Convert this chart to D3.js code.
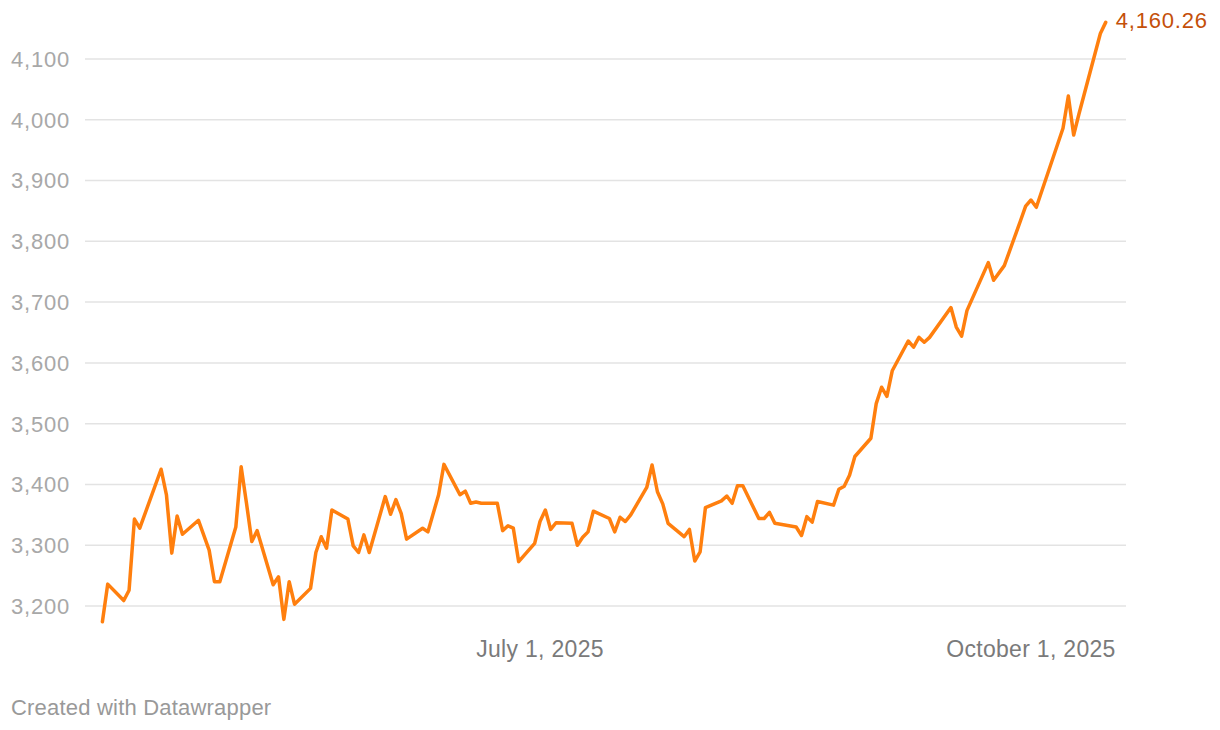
<!DOCTYPE html>
<html>
<head>
<meta charset="utf-8">
<script src="https://cdn.jsdelivr.net/npm/d3@7"></script>
<style>
  body { margin: 0; background: #fff; }
  text { font-family: "Liberation Sans", Arial, sans-serif; }
</style>
</head>
<body>
<div id="chart"></div>
<script>
// gold price, daily
const dates = [
  "2025-04-10","2025-04-11","2025-04-14","2025-04-15","2025-04-16","2025-04-17","2025-04-21","2025-04-22","2025-04-23","2025-04-24",
  "2025-04-25","2025-04-28","2025-04-30","2025-05-01","2025-05-02","2025-05-05","2025-05-06","2025-05-07","2025-05-08","2025-05-09",
  "2025-05-12","2025-05-13","2025-05-14","2025-05-15","2025-05-16","2025-05-19","2025-05-20","2025-05-21","2025-05-22","2025-05-23",
  "2025-05-26","2025-05-27","2025-05-28","2025-05-29","2025-05-30","2025-06-02","2025-06-03","2025-06-04","2025-06-05","2025-06-06",
  "2025-06-09","2025-06-10","2025-06-12","2025-06-13","2025-06-16","2025-06-17","2025-06-18","2025-06-19","2025-06-20","2025-06-23",
  "2025-06-24","2025-06-25","2025-06-26","2025-06-27","2025-06-30","2025-07-01","2025-07-02","2025-07-03","2025-07-04","2025-07-07",
  "2025-07-08","2025-07-09","2025-07-10","2025-07-11","2025-07-14","2025-07-15","2025-07-16","2025-07-17","2025-07-18","2025-07-21",
  "2025-07-22","2025-07-23","2025-07-24","2025-07-25","2025-07-28","2025-07-29","2025-07-30","2025-07-31","2025-08-01","2025-08-04",
  "2025-08-05","2025-08-06","2025-08-07","2025-08-08","2025-08-11","2025-08-12","2025-08-13","2025-08-14","2025-08-18","2025-08-19",
  "2025-08-20","2025-08-21","2025-08-22","2025-08-25","2025-08-26","2025-08-27","2025-08-28","2025-08-29","2025-09-01","2025-09-02",
  "2025-09-03","2025-09-04","2025-09-05","2025-09-08","2025-09-09","2025-09-10","2025-09-11","2025-09-12","2025-09-16","2025-09-17",
  "2025-09-18","2025-09-19","2025-09-23","2025-09-24","2025-09-26","2025-09-29","2025-09-30","2025-10-01","2025-10-02","2025-10-07",
  "2025-10-08","2025-10-09","2025-10-10","2025-10-14","2025-10-15"
];
const prices = [
  3174, 3236, 3209, 3226, 3343, 3328, 3425, 3383, 3287, 3348,
  3318, 3341, 3292, 3240, 3240, 3330, 3429, 3369, 3306, 3324,
  3235, 3248, 3178, 3240, 3203, 3229, 3288, 3314, 3295, 3358,
  3343, 3299, 3288, 3317, 3288, 3380, 3351, 3375, 3352, 3310,
  3328, 3322, 3383, 3433, 3383, 3389, 3369, 3371, 3369, 3369,
  3324, 3332, 3328, 3273, 3303, 3339, 3358, 3326, 3337, 3336,
  3300, 3313, 3322, 3356, 3344, 3322, 3346, 3339, 3350, 3395,
  3432, 3388, 3368, 3336, 3314, 3326, 3274, 3289, 3362, 3373,
  3381, 3369, 3398, 3398, 3344, 3344, 3354, 3336, 3330, 3316,
  3347, 3338, 3372, 3366, 3392, 3397, 3415, 3446, 3476, 3533,
  3560, 3545, 3587, 3636, 3626, 3642, 3634, 3642, 3691, 3659,
  3644, 3686, 3765, 3736, 3760, 3833, 3858, 3868, 3856, 3986,
  4039, 3975, 4010, 4142, 4160.26
];
const yTicks = [3200, 3300, 3400, 3500, 3600, 3700, 3800, 3900, 4000, 4100];
const xTicks = ["2025-07-01", "2025-10-01"];
const lastLabel = "4,160.26";

const w = 1220;
const h = 730;
const parse = d3.utcParse("%Y-%m-%d");
const data = dates.map((d, i) => ({date: parse(d), value: prices[i]}));

const svg = d3.select("#chart").append("svg")
    .attr("width", w)
    .attr("height", h);

const x = d3.scaleUtc()
    .domain(d3.extent(data, d => d.date))
    .range([102.4, 1105.7]);

const y = d3.scaleLinear()
    .domain([3200, 4100])
    .range([606, 59]);

// grid + y labels
const yAxis = svg.append("g").attr("class", "y-axis");
yAxis.selectAll("line")
    .data(yTicks)
    .enter()
    .append("line")
    .attr("x1", 85)
    .attr("x2", 1126)
    .attr("y1", d => y(d))
    .attr("y2", d => y(d))
    .style("stroke", "#e3e3e3")
    .style("stroke-width", 1.5);

yAxis.selectAll("text")
    .data(yTicks)
    .enter()
    .append("text")
    .attr("x", 70)
    .attr("y", d => y(d))
    .attr("dy", "0.36em")
    .attr("text-anchor", "end")
    .style("font-size", "22px")
    .style("letter-spacing", "0.8px")
    .style("fill", "#a8a8a8")
    .text(d => d3.format(",")(d));

// x labels
const fmt = d3.utcFormat("%B %-d, %Y");
svg.append("g").selectAll("text")
    .data(xTicks.map(parse))
    .enter()
    .append("text")
    .attr("x", d => x(d))
    .attr("y", 656.5)
    .attr("text-anchor", "middle")
    .style("font-size", "23px")
    .style("letter-spacing", "0.3px")
    .style("fill", "#7a7a7a")
    .text(d => fmt(d));

// the line
const line = d3.line()
    .x(d => x(d.date))
    .y(d => y(d.value));

svg.append("path")
    .datum(data)
    .attr("d", line)
    .style("fill", "none")
    .style("stroke", "#ff7f0e")
    .style("stroke-width", 3.5)
    .style("stroke-linejoin", "round")
    .style("stroke-linecap", "round");

// value label on last point
const last = data[data.length - 1];
svg.append("text")
    .attr("x", x(last.date) + 10)
    .attr("y", 28.3)
    .style("font-size", "22px")
    .style("letter-spacing", "0.8px")
    .style("fill", "#c4500a")
    .text(lastLabel);

svg.append("text")
    .attr("x", 11)
    .attr("y", 715)
    .style("font-size", "22px")
    .style("letter-spacing", "0.2px")
    .style("fill", "#999999")
    .text("Created with Datawrapper");
</script>
</body>
</html>
